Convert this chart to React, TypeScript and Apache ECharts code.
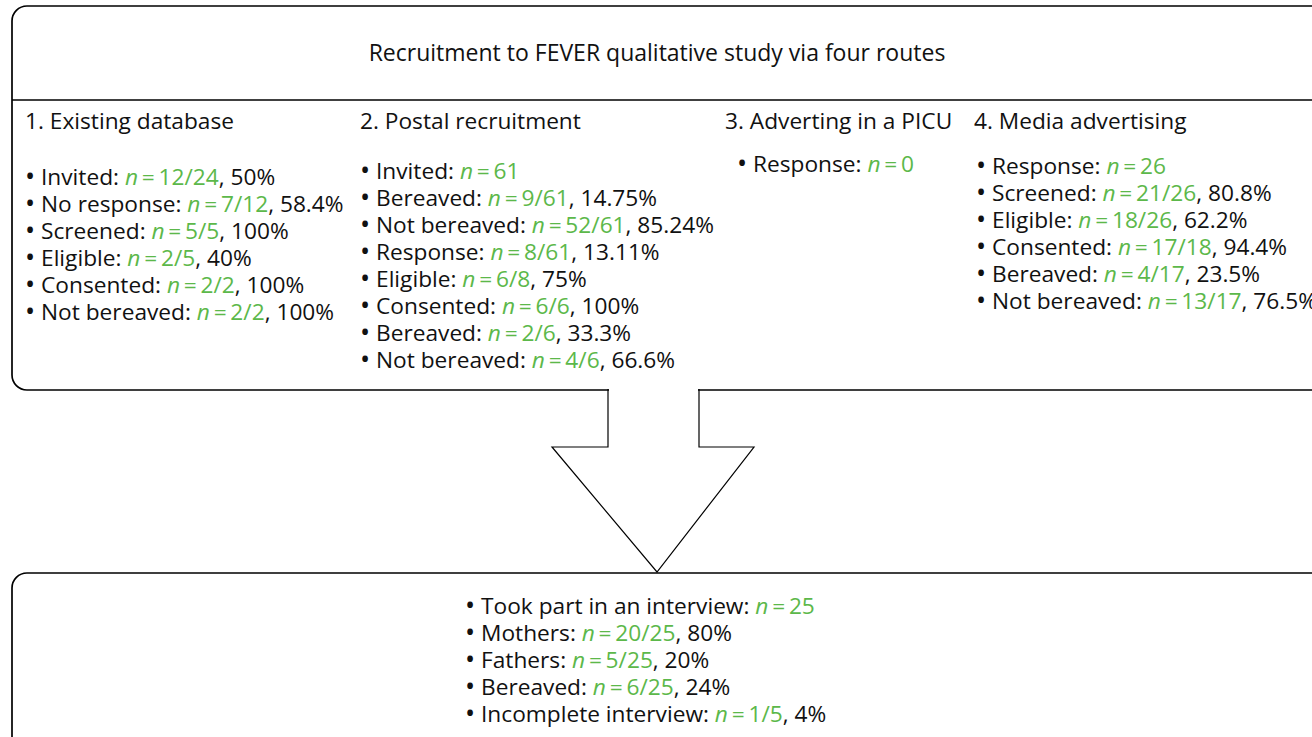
import React, { useEffect, useRef } from "react";
import * as echarts from "echarts";

const TITLE = "Recruitment to FEVER qualitative study via four routes";
const routeHeaders = [
  "1. Existing database",
  "2. Postal recruitment",
  "3. Adverting in a PICU",
  "4. Media advertising",
];

// [label, n, percentage]
const route1 = [
  ["Invited", "12/24", "50%"],
  ["No response", "7/12", "58.4%"],
  ["Screened", "5/5", "100%"],
  ["Eligible", "2/5", "40%"],
  ["Consented", "2/2", "100%"],
  ["Not bereaved", "2/2", "100%"],
];
const route2 = [
  ["Invited", "61", ""],
  ["Bereaved", "9/61", "14.75%"],
  ["Not bereaved", "52/61", "85.24%"],
  ["Response", "8/61", "13.11%"],
  ["Eligible", "6/8", "75%"],
  ["Consented", "6/6", "100%"],
  ["Bereaved", "2/6", "33.3%"],
  ["Not bereaved", "4/6", "66.6%"],
];
const route3 = [["Response", "0", ""]];
const route4 = [
  ["Response", "26", ""],
  ["Screened", "21/26", "80.8%"],
  ["Eligible", "18/26", "62.2%"],
  ["Consented", "17/18", "94.4%"],
  ["Bereaved", "4/17", "23.5%"],
  ["Not bereaved", "13/17", "76.5%"],
];
const interview = [
  ["Took part in an interview", "25", ""],
  ["Mothers", "20/25", "80%"],
  ["Fathers", "5/25", "20%"],
  ["Bereaved", "6/25", "24%"],
  ["Incomplete interview", "1/5", "4%"],
];

const GREEN = "#5cb84a";
const INK = "#111";
const FONT = "'Open Sans', 'Noto Sans', sans-serif";
const FS = 22.7;
const STEP = 27;
const LH = 24;

function itemText(it: string[]) {
  const [label, n, pct] = it;
  return "{d|\u2022}{t| " + label + ": }{i|n}{g|\u2009=\u2009" + n + "}{t|" + (pct ? ", " + pct : "") + "}";
}

function textEl(x: number, y: number, text: string, align = "left", fs = FS) {
  return {
    type: "text",
    z: 10,
    style: {
      x,
      y,
      text,
      fill: INK,
      font: `${fs}px ${FONT}`,
      fontSize: fs,
      fontFamily: FONT,
      lineHeight: LH,
      textAlign: align,
      align: align,
      textVerticalAlign: "middle",
      verticalAlign: "middle",
      rich: {
        d: { fill: INK, fontSize: 27, fontFamily: FONT, lineHeight: LH, padding: [0, 0, 2, 0] },
        t: { fill: INK, fontSize: fs, fontFamily: FONT, lineHeight: LH },
        i: { fill: GREEN, fontStyle: "italic", fontSize: fs, fontFamily: FONT, lineHeight: LH },
        g: { fill: GREEN, fontSize: fs, fontFamily: FONT, lineHeight: LH },
      },
    },
  };
}

export default function App() {
  const ref = useRef<HTMLDivElement>(null);
  useEffect(() => {
    const chart = echarts.init(ref.current!, null, { renderer: "svg" });
    const elements: any[] = [];
    // top box
    elements.push({
      type: "rect",
      z: 1,
      shape: { x: 12, y: 6, width: 1340, height: 384, r: 15 },
      style: { fill: "#fff", stroke: "#000", lineWidth: 1.7 },
    });
    elements.push({
      type: "line",
      z: 2,
      shape: { x1: 12, y1: 100, x2: 1320, y2: 100 },
      style: { stroke: "#000", lineWidth: 1.7 },
    });
    // bottom box
    elements.push({
      type: "rect",
      z: 1,
      shape: { x: 12, y: 573, width: 1340, height: 220, r: 15 },
      style: { fill: "#fff", stroke: "#000", lineWidth: 1.7 },
    });
    // arrow
    elements.push({
      type: "rect",
      z: 3,
      shape: { x: 609, y: 386, width: 89, height: 8 },
      style: { fill: "#fff", stroke: null, lineWidth: 0 },
    });
    elements.push({
      type: "polyline",
      z: 4,
      shape: {
        points: [
          [608, 389],
          [608, 447],
          [552, 447],
          [657, 572],
          [754, 447],
          [699, 447],
          [699, 389],
        ],
      },
      style: { fill: null, stroke: "#000", lineWidth: 1.2 },
    });

    elements.push(textEl(657, 52, TITLE, "center", 23));

    const cols = [
      { x: 25, items: route1, y0: 176 },
      { x: 360, items: route2, y0: 170 },
      { x: 737, items: route3, y0: 163 },
      { x: 976, items: route4, y0: 165 },
    ];
    const headerX = [25, 360, 725, 974];
    routeHeaders.forEach((h, i) => elements.push(textEl(headerX[i], 120, h)));
    cols.forEach((c) => {
      c.items.forEach((it, k) => elements.push(textEl(c.x, c.y0 + k * STEP, itemText(it))));
    });
    interview.forEach((it, k) => elements.push(textEl(465, 605 + k * STEP, itemText(it))));

    chart.setOption({ animation: false, graphic: { elements } });
    return () => chart.dispose();
  }, []);
  return (
    <div
      ref={ref}
      style={{ position: "fixed", left: 0, top: 0, width: 1312, height: 737, background: "#fff" }}
    />
  );
}
